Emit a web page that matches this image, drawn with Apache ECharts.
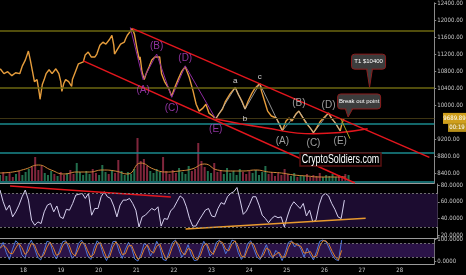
<!DOCTYPE html>
<html><head><meta charset="utf-8">
<style>html,body{margin:0;padding:0;background:#000;}#c{width:466px;height:275px;}</style>
<script src="https://cdn.jsdelivr.net/npm/echarts@6/dist/echarts.min.js"></script>
</head><body><div id="c"></div>
<script>
// ---------- data ----------
const dayTicks = [18,19,20,21,22,23,24,25,26,27,28];
const priceTicks = [8400,8800,9200,10000,10400,10800,11200,11600,12000,12400];
const rsiTicks = [20,40,60,80];
const stochTicks = [0,100];

const priceTimes = [17.38,17.48,17.58,17.69,17.79,17.90,17.97,18.05,18.13,18.18,
18.24,18.29,18.36,18.42,18.44,18.50,18.55,18.60,18.68,18.76,
18.81,18.86,18.94,18.99,19.02,19.07,19.12,19.20,19.28,19.30,
19.38,19.46,19.59,19.64,19.72,19.80,19.90,19.95,20.03,20.11,
20.19,20.29,20.35,20.40,20.42,20.50,20.58,20.68,20.71,20.76,
20.84,20.89,20.95,21.02,21.08,21.10,21.15,21.21,21.26,21.34,
21.41,21.49,21.54,21.62,21.67,21.75,21.86,21.94,22.01,22.12,
22.20,22.30,22.40,22.51,22.59,22.67,22.77,22.85,22.93,23.03,
23.11,23.19,23.29,23.37,23.50,23.63,23.71,23.81,23.89,23.97,
24.07,24.15,24.28,24.33,24.41,24.49,24.59,24.72,24.80,24.88,
24.98,25.06,25.14,25.24,25.32,25.40,25.51,25.64,25.71,25.79,
25.90,26.03,26.11,26.18,26.29,26.37,26.42,26.47,26.52];
const priceValues = [10855,10740,10786,10694,10763,10740,10925,11064,11272,11064,
10786,10555,10601,10277,10139,10486,10601,10740,10832,10740,
10786,10855,10740,10555,10324,10509,10601,10555,10439,10601,
10786,10971,11017,11179,11248,11133,11133,11202,11410,11480,
11433,11549,11642,11410,11202,11318,11433,11480,11549,11642,
11734,11803,11665,11318,11064,11133,10786,10601,10740,10902,
11064,11133,11179,11133,10740,10555,10393,10208,10393,10624,
10786,10902,10670,10324,10023,9861,9931,10023,9815,9746,
9676,9792,9908,10092,10277,10416,10254,10092,9908,10092,
10277,10393,10509,10324,10092,9861,9746,9699,9561,9399,
9630,9699,9630,9792,9861,9746,9584,9445,9353,9468,
9630,9746,9815,9699,9584,9468,9399,9584,9690];
const lastPrice = 9689.89;
const lastTimeLabel = '00:19';

const levelsOlive = [11760, 10400];
const levelsTeal = [9570, 8890, 8200];

// 2-hour buckets starting at day 17.375
const bucketStart = 17.375;
const bucketStep = 1/12;
const volumeValues = [6,9,5,8,4,7,10,6,9,12, 14,24,11,15,8,6,10,7,5,9,
6,8,11,7,18,9,6,10,7,12, 8,6,16,9,7,11,8,21,10,6,
9,7,12,43,20,22,15,10,8,12, 9,24,10,7,11,8,13,9,7,15,
10,12,38,20,14,10,8,18,9,11, 7,13,8,10,6,12,9,7,10,8,
11,6,9,15,7,9,5,8,6,12, 7,5,8,4,6,5,7,4,6,5,
8,4,6,5,7,4,6,5,7,6];
const maStep = 1/3;
const volumeMA = [8,9,12,16,11,7,9,9,11,10,7,18,12,9,10,12,17,11,10,10,11,9,8,6,5,4,4,4];

const rsiValues = [74,60,50,56,42,48,56,66,74,62, 38,32,36,34,48,56,58,48,55,42,
40,51,50,58,68,69,70,64,70,44, 52,52,66,72,66,64,55,42,56,62,
62,64,58,50,30,42,44,48,52,50, 54,31,40,39,49,53,60,67,64,54,
40,31,31,38,44,50,52,43,42,52, 59,57,66,70,72,77,62,45,49,57,
66,66,56,44,40,35,40,43,41,42, 30,43,54,60,56,52,58,43,50,36,
38,56,67,70,67,58,51,42,40,62];
const stochK = [60,85,40,10,55,92,80,30,15,70, 95,60,20,8,45,90,85,35,12,50,
88,92,55,15,30,80,95,70,25,10, 60,92,75,30,5,40,88,90,45,15,
55,85,60,12,3,35,80,70,25,50, 90,65,10,5,45,85,95,60,20,40,
75,30,5,8,50,90,70,25,40,85, 95,75,35,60,95,90,40,10,30,80,
92,55,20,10,45,75,30,15,50,35, 5,40,85,92,65,80,55,20,60,30,
8,45,90,95,88,60,30,10,5,95];
const stochD = [58,72,62,38,35,60,82,62,32,45, 80,75,40,18,30,65,86,62,28,35,
70,88,75,38,25,55,85,80,48,20, 35,75,85,52,18,22,65,88,70,32,
35,70,72,38,10,20,55,75,48,38, 68,78,40,10,25,65,90,78,42,30,
58,52,18,8,30,70,80,48,32,62, 90,85,55,48,78,92,65,25,20,55,
85,75,38,15,28,60,52,22,32,42, 20,22,62,88,80,72,68,38,40,45,
20,25,68,92,92,75,45,20,8,50];

const purpleWave = [[20.84,11826],[21.18,10601],[21.54,11202],[21.94,10185],[22.30,10925],[23.11,9676]];
const purpleNames = ['','(A)','(B)','(C)','(D)','(E)'];
const grayWave = [[23.11,9676],[23.63,10416],[23.89,9908],[24.28,10509],[24.88,9399],[25.32,9861],[25.71,9353],[26.11,9815],[26.42,9399]];
const grayNames = ['','a','b','c','(A)','(B)','(C)','(D)','(E)'];

const channelUpper = [[20.89,11803],[28.79,8775]];
const channelLower = [[19.59,11040],[26.81,8174]];
const triangleBase = [[23.11,9676],[24.41,9468],[25.71,9330],[27.15,9445]];
const breakLine = [[26.44,9676],[26.68,9214]];
const rsiDownTrend = [[17.64,78.8],[21.88,65.7]];
const rsiUpTrend = [[22.27,27.5],[27.02,40.3]];

const callouts = [{text:'T1 $10400', at:[27.20,10400]}, {text:'Break out point', at:[26.63,9700]}];
const watermark = 'CryptoSoldiers.com';

// ---------- chart ----------
const X0 = 17.375, X1 = 28.92;
const NARROW = "'Liberation Sans Narrow','DejaVu Sans Condensed','Liberation Sans',Arial,sans-serif";
const chart = echarts.init(document.getElementById('c'));

function priceAt(t){
  if (t <= priceTimes[0]) return priceValues[0];
  for (let i=1;i<priceTimes.length;i++){
    if (t <= priceTimes[i]){
      const f=(t-priceTimes[i-1])/(priceTimes[i]-priceTimes[i-1]);
      return priceValues[i-1]+f*(priceValues[i]-priceValues[i-1]);
    }
  }
  return priceValues[priceValues.length-1];
}
const bt = i => bucketStart + i*bucketStep;
const pricePts = priceTimes.map((t,i)=>[t, priceValues[i]]);
const volData = volumeValues.map((v,i)=>{
  const t=bt(i); const up = priceAt(t) >= priceAt(t-bucketStep);
  return {value:[t,v], itemStyle:{color: up ? 'rgba(40,130,90,0.85)' : 'rgba(150,45,70,0.85)'}};
});
const maData = volumeMA.map((v,i)=>[bucketStart+i*maStep, v]);
const rsiData = rsiValues.map((v,i)=>[bt(i), v]);
const kData = stochK.map((v,i)=>[bt(i), v]);
const dData = stochD.map((v,i)=>[bt(i), v]);

function waveItems(pts, names, color, bigSize, smallSize){
  return pts.map((p,i)=>{
    const ref = pts[i-1] || pts[i+1];
    const low = p[1] < ref[1];
    const small = names[i].length === 1;
    return {name:names[i], value:p, label:{position: low?'bottom':'top', distance: low?5:2,
      fontSize: small?smallSize:bigSize, color: small?'#ffffff':color}};
  }).filter(d=>d.name);
}

const axisTxt = {color:'#c8c8c8', fontSize:6, fontFamily:NARROW, margin:3};
const xBase = (gi, showLine, labels) => ({
  type:'value', gridIndex:gi, min:X0, max:X1, show: true,
  axisLine:{show:showLine, onZero:false, lineStyle:{color:'#9a9a9a', width:1}},
  axisTick:{show:false}, splitLine:{show:false},
  axisLabel: labels ? Object.assign({customValues:dayTicks, formatter:v=>String(v)}, axisTxt) : {show:false}
});
const yBase = (gi, min, max, ticks, dec) => ({
  type:'value', gridIndex:gi, position:'right', min, max,
  axisLine:{show:true, onZero:false, lineStyle:{color:'#8a8a8a'}},
  axisTick:{show:true, length:2, customValues:ticks, lineStyle:{color:'#8a8a8a'}},
  splitLine:{show:false},
  axisLabel:Object.assign({customValues:ticks, formatter:v=>Number(v).toFixed(dec)}, axisTxt)
});

const line = (data, color, width, extra) => Object.assign({type:'line', xAxisIndex:0, yAxisIndex:0, data, symbol:'none', silent:true,
  lineStyle:{color, width}}, extra||{});

const option = {
  backgroundColor:'#000',
  animation:false,
  grid:[
    {left:0, right:23, top:0, height:183},
    {left:0, right:23, top:138, height:43},
    {left:0, right:23, top:184, height:54},
    {left:0, right:23, top:239, height:25}
  ],
  xAxis:[ xBase(0,true,false), Object.assign(xBase(1,false,false),{show:false}), xBase(2,true,false), xBase(3,true,true) ],
  yAxis:[
    yBase(0, 8173, 12405, priceTicks, 2),
    {type:'value', gridIndex:1, min:0, max:43, show:false},
    yBase(2, 16.8, 81.2, rsiTicks, 4),
    yBase(3, -10, 100, stochTicks, 4)
  ],
  series:[
    line([[X0,10000],[X1,10000]], 'rgba(0,0,0,0)', 0, {markLine:{silent:true, symbol:'none', label:{show:false}, data:[
      ...levelsOlive.map(v=>({yAxis:v, lineStyle:{color:'#6d6711', width:1.5, type:'solid'}})),
      ...levelsTeal.map(v=>({yAxis:v, lineStyle:{color:'#1a8a8e', width:1.5, type:'solid'}})),
      {yAxis:lastPrice, lineStyle:{color:'#3e3513', width:1, type:'solid'}}
    ]}}),
    {type:'bar', xAxisIndex:1, yAxisIndex:1, data:volData, barWidth:2, silent:true},
    {type:'line', xAxisIndex:1, yAxisIndex:1, data:maData, symbol:'none', smooth:true, silent:true, lineStyle:{color:'#d4893a', width:1}},
    line(pricePts, '#e69d3c', 1.4, {z:3}),
    line(purpleWave, '#8e2aa0', 1, {z:4}),
    line(grayWave, '#b8b8b8', 0.8, {z:4}),
    {type:'scatter', xAxisIndex:0, yAxisIndex:0, symbolSize:1, itemStyle:{color:'rgba(0,0,0,0)'}, silent:true, z:6,
      data: waveItems(purpleWave, purpleNames, '#b040c4', 10, 8), label:{show:true, formatter:'{b}', fontFamily:'Liberation Sans,Arial,sans-serif'}},
    {type:'scatter', xAxisIndex:0, yAxisIndex:0, symbolSize:1, itemStyle:{color:'rgba(0,0,0,0)'}, silent:true, z:6,
      data: waveItems(grayWave, grayNames, '#c4c4c4', 10, 8), label:{show:true, formatter:'{b}', fontFamily:'Liberation Sans,Arial,sans-serif'}},
    line(channelUpper, '#e3161d', 1.5, {z:5}),
    line(channelLower, '#e3161d', 1.5, {z:5}),
    line(triangleBase, '#e3161d', 1.5, {z:5, smooth:true}),
    line(breakLine, '#a8a11c', 1, {z:5}),
    {type:'line', xAxisIndex:2, yAxisIndex:2, data:rsiData, symbol:'none', silent:true, lineStyle:{color:'#d6d0ee', width:1}, z:3,
      markArea:{silent:true, itemStyle:{color:'#1c0c30'}, data:[[{yAxis:30},{yAxis:70}]]},
      markLine:{silent:true, symbol:'none', label:{show:false}, lineStyle:{color:'#8a8a8a', type:[2,2], width:0.8}, data:[{yAxis:70},{yAxis:30}]}},
    {type:'line', xAxisIndex:2, yAxisIndex:2, data:rsiDownTrend, symbol:'none', silent:true, lineStyle:{color:'#e3161d', width:1.5}, z:4},
    {type:'line', xAxisIndex:2, yAxisIndex:2, data:rsiUpTrend, symbol:'none', silent:true, lineStyle:{color:'#e89a2e', width:1.5}, z:4},
    {type:'line', xAxisIndex:3, yAxisIndex:3, data:kData, symbol:'none', silent:true, lineStyle:{color:'#4f78dc', width:1}, z:3,
      markArea:{silent:true, itemStyle:{color:'#2b1348'}, data:[[{yAxis:20},{yAxis:80}]]},
      markLine:{silent:true, symbol:'none', label:{show:false}, lineStyle:{color:'#8a8a8a', type:[2,2], width:0.8}, data:[{yAxis:80},{yAxis:20}]}},
    {type:'line', xAxisIndex:3, yAxisIndex:3, data:dData, symbol:'none', silent:true, lineStyle:{color:'#e0822e', width:1}, z:3}
  ]
};
chart.setOption(option);

// ---------- annotations anchored to data ----------
const P = p => chart.convertToPixel({xAxisIndex:0, yAxisIndex:0}, p);
const g = [];
const layout = [{w:34,h:15,dx:-1,gap:19,pl:-3,pr:3},{w:43,h:15,dx:11,gap:9,pl:-3,pr:5}];
callouts.forEach((c,i)=>{
  const L=layout[i]; const t=P(c.at);
  const cx=t[0]+L.dx, bottom=t[1]-L.gap, x=cx-L.w/2, y=bottom-L.h;
  g.push({type:'polygon', z:99, shape:{points:[[t[0]+L.pl,bottom-1],[t[0]+L.pr,bottom-1],[t[0],t[1]-1]]}, style:{fill:'#3c3c3c', stroke:'#8c1d1d', lineWidth:1}});
  g.push({type:'rect', z:100, shape:{x,y,width:L.w,height:L.h,r:3}, style:{fill:'#3c3c3c', stroke:'#8c1d1d', lineWidth:1}});
  g.push({type:'polygon', z:101, shape:{points:[[t[0]+L.pl+1,bottom-1.5],[t[0]+L.pr-1,bottom-1.5],[t[0],t[1]-3]]}, style:{fill:'#3c3c3c'}});
  g.push({type:'text', z:102, x:cx, y:y+L.h/2, style:{text:c.text, fill:'#ffffff', font:'6px '+'Liberation Sans, Arial, sans-serif', align:'center', verticalAlign:'middle'}});
});
// watermark (condensed by horizontal scaling)
g.push({type:'rect', z:110, shape:{x:300, y:153, width:81, height:13}, style:{fill:'#000', stroke:'#5a1010', lineWidth:1.5}});
g.push({type:'text', z:111, x:340.5, y:159.8, scaleX:0.74, style:{text:watermark, fill:'#ffffff', font:'12px Liberation Sans, Arial, sans-serif', align:'center', verticalAlign:'middle'}});
// last price tag
const lp = P([X1, lastPrice]);
g.push({type:'rect', z:120, shape:{x:443, y:lp[1]-5.5, width:23, height:11}, style:{fill:'#cf9f1c'}});
g.push({type:'text', z:121, x:454.5, y:lp[1], style:{text:lastPrice.toFixed(2), fill:'#fff', font:'6px '+NARROW, align:'center', verticalAlign:'middle'}});
g.push({type:'rect', z:120, shape:{x:448, y:lp[1]+5.5, width:18, height:8}, style:{fill:'#b8901a'}});
g.push({type:'text', z:121, x:457, y:lp[1]+9.5, style:{text:lastTimeLabel, fill:'#fff', font:'6px '+NARROW, align:'center', verticalAlign:'middle'}});
chart.setOption({graphic:{elements:g}});
</script></body></html>
